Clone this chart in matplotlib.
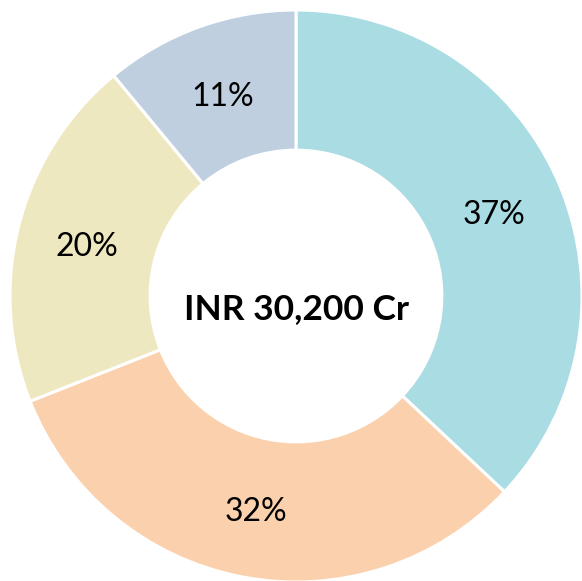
import matplotlib
matplotlib.use("Agg")
import matplotlib.pyplot as plt

# segment shares, clockwise from 12 o'clock
SHARES = [37, 32, 20, 11]
COLORS = ["#A9DCE3", "#FBD0AC", "#EEE8C0", "#BFCFE0"]
CENTER_TEXT = "INR 30,200 Cr"

W, H = 582, 581
fig = plt.figure(figsize=(W / 100, H / 100), dpi=100)
cx, cy, r = 296, 285, 286
ax = fig.add_axes([(cx - r) / W, (cy - r) / H, 2 * r / W, 2 * r / H])

wedges, texts, autotexts = ax.pie(
    SHARES, colors=COLORS, startangle=90, counterclock=False,
    radius=1.0, autopct="%d%%", pctdistance=0.755,
    wedgeprops=dict(width=0.49, edgecolor="white", linewidth=2.2),
    textprops=dict(fontsize=23, family="Lato", color="black"),
)
for t in autotexts:
    x, y = t.get_position()
    t.set_position((x, y - 0.015))
ax.text(0, -0.045, CENTER_TEXT, ha="center", va="center",
        fontsize=25.5, fontweight="bold", family="Lato")
ax.set_xlim(-1, 1)
ax.set_ylim(-1, 1)
ax.set_aspect("equal")
ax.axis("off")

fig.savefig("out.png", dpi=100)
